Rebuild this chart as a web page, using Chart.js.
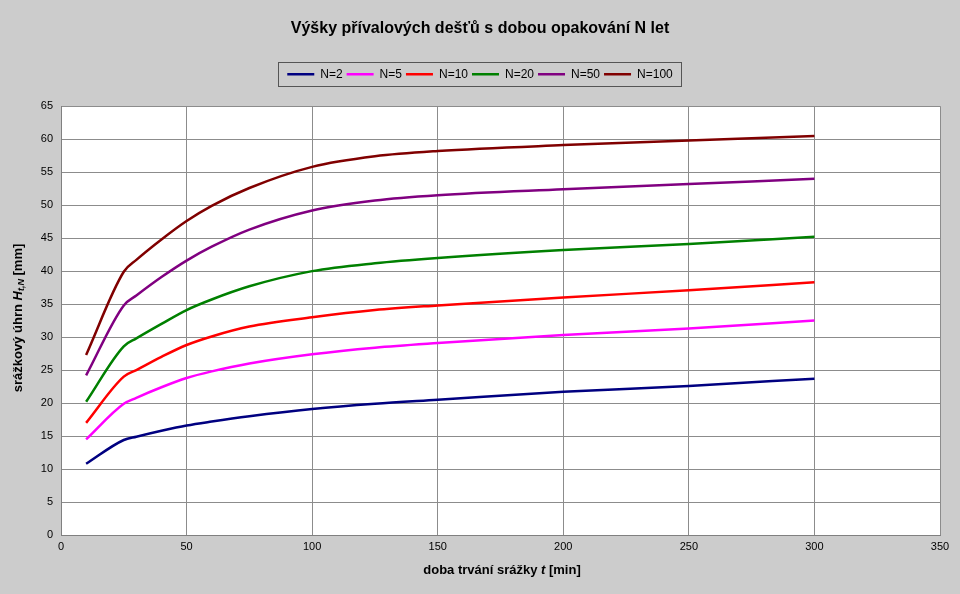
<!DOCTYPE html>
<html>
<head>
<meta charset="utf-8">
<script src="https://cdn.jsdelivr.net/npm/chart.js@4.4.0/dist/chart.umd.min.js"></script>
<style>
  html, body { margin: 0; padding: 0; background: #cccccc; }
  canvas { display: block; }
</style>
</head>
<body>
<canvas id="chart" width="960" height="594"></canvas>
<script>
// doba trvání srážky [min]
const durations = [10, 25, 30, 40, 50, 60, 75, 100, 125, 150, 200, 250, 300];

// výšky srážek [mm] pro jednotlivé doby opakování
const n2   = [10.8, 14.4, 14.9, 15.8, 16.6, 17.2, 18.0, 19.1, 19.9, 20.5, 21.7, 22.6, 23.7];
const n5   = [14.5, 19.9, 20.8, 22.4, 23.8, 24.8, 26.0, 27.4, 28.4, 29.1, 30.3, 31.3, 32.5];
const n10  = [17.0, 24.0, 25.0, 27.0, 28.8, 30.1, 31.6, 33.0, 34.1, 34.8, 36.0, 37.1, 38.3];
const n20  = [20.2, 28.6, 29.8, 32.0, 34.1, 35.7, 37.7, 40.0, 41.2, 42.0, 43.2, 44.1, 45.2];
const n50  = [24.2, 34.8, 36.3, 39.1, 41.6, 43.7, 46.3, 49.2, 50.7, 51.5, 52.4, 53.2, 54.0];
const n100 = [27.3, 39.9, 41.7, 44.8, 47.6, 49.9, 52.6, 55.8, 57.4, 58.2, 59.1, 59.8, 60.5];

const seriesNames = ['N=2', 'N=5', 'N=10', 'N=20', 'N=50', 'N=100'];
const seriesValues = [n2, n5, n10, n20, n50, n100];
const seriesColors = ['#000080', '#ff00ff', '#ff0000', '#008000', '#800080', '#800000'];

const FONT = "'Liberation Sans', Arial, sans-serif";

function points(values) {
    return durations.map((d, i) => ({ x: d, y: values[i] }));
}

// pozadí grafu a bílá plocha
const background = {
    id: 'background',
    beforeDraw(chart) {
        const ctx = chart.ctx;
        const a = chart.chartArea;
        ctx.save();
        ctx.fillStyle = '#cccccc';
        ctx.fillRect(0, 0, chart.width, chart.height);
        ctx.fillStyle = '#ffffff';
        ctx.fillRect(a.left, a.top, a.right - a.left, a.bottom - a.top);
        ctx.restore();
    }
};

// nadpis a legenda vycentrované na celou šířku, rámeček kolem legendy
const legendBox = {
    id: 'legendBox',
    beforeInit(chart) {
        const fit = chart.legend.fit;
        chart.legend.fit = function () {
            fit.bind(chart.legend)();
            this.height += 16;
        };
    },
    afterLayout(chart) {
        [chart.titleBlock, chart.legend].forEach(b => {
            b.left = 0;
            b.right = chart.width;
            b.width = chart.width;
        });
    },
    afterDraw(chart) {
        const legend = chart.legend;
        if (!legend.lineWidths) return;
        const pad = legend.options.labels.padding;
        const lineWidth = legend.lineWidths[0];
        const start = (pad + chart.width - lineWidth) / 2;
        const end = start + lineWidth - pad;
        const left = Math.round(start - 9);
        const right = Math.round(end + 8);
        const top = Math.round(legend.top - 2);
        const ctx = chart.ctx;
        ctx.save();
        ctx.strokeStyle = '#555555';
        ctx.lineWidth = 1;
        ctx.strokeRect(left + 0.5, top + 0.5, right - left, 24);
        ctx.restore();
    }
};

function drawRich(ctx, parts, x, y) {
    let total = 0;
    parts.forEach(p => { ctx.font = p.font; total += ctx.measureText(p.text).width; });
    let cx = x - total / 2;
    parts.forEach(p => {
        ctx.font = p.font;
        ctx.fillText(p.text, cx, y + (p.dy || 0));
        cx += ctx.measureText(p.text).width;
    });
}

// popisky os s kurzívou a dolním indexem
const axisTitles = {
    id: 'axisTitles',
    afterDraw(chart) {
        const ctx = chart.ctx;
        ctx.save();
        ctx.fillStyle = '#000000';
        ctx.textBaseline = 'middle';
        ctx.textAlign = 'left';
        drawRich(ctx, [
            { text: 'doba trvání srážky ', font: 'bold 13px ' + FONT },
            { text: 't', font: 'italic bold 13px ' + FONT },
            { text: ' [min]', font: 'bold 13px ' + FONT }
        ], 502, 570);
        ctx.translate(18, 318);
        ctx.rotate(-Math.PI / 2);
        drawRich(ctx, [
            { text: 'srážkový úhrn ', font: 'bold 13px ' + FONT },
            { text: 'H', font: 'italic bold 13px ' + FONT },
            { text: 't,N', font: 'italic bold 9px ' + FONT, dy: 4 },
            { text: ' [mm]', font: 'bold 13px ' + FONT }
        ], 0, 0);
        ctx.restore();
    }
};

const ctx = document.getElementById('chart').getContext('2d');
const chart = new Chart(ctx, {
    type: 'line',
    data: {
        datasets: seriesNames.map((name, i) => ({
            label: name,
            data: points(seriesValues[i]),
            borderColor: seriesColors[i],
            backgroundColor: seriesColors[i],
            borderWidth: 2.5,
            pointRadius: 0,
            cubicInterpolationMode: 'monotone',
            fill: false
        }))
    },
    options: {
        responsive: false,
        animation: false,
        devicePixelRatio: 1,
        layout: { padding: { left: 0, right: 20, top: 0, bottom: 0 } },
        plugins: {
            title: {
                display: true,
                text: 'Výšky přívalových dešťů s dobou opakování N let',
                color: '#000000',
                font: { family: FONT, size: 16, weight: 'bold' },
                padding: { top: 19, bottom: 26 }
            },
            legend: {
                display: true,
                labels: {
                    color: '#000000',
                    font: { family: FONT, size: 12 },
                    usePointStyle: true,
                    pointStyle: 'line',
                    pointStyleWidth: 27,
                    padding: 4
                }
            },
            tooltip: { enabled: false }
        },
        scales: {
            x: {
                type: 'linear',
                min: 0,
                max: 350,
                ticks: { stepSize: 50, color: '#000000', font: { family: FONT, size: 11 }, padding: 5, maxRotation: 0 },
                grid: { color: '#8c8c8c', drawTicks: false },
                border: { color: '#808080' },
                afterFit(scale) { scale.height = 59; }
            },
            y: {
                min: 0,
                max: 65,
                ticks: { stepSize: 5, color: '#000000', font: { family: FONT, size: 11 }, padding: 8 },
                grid: { color: '#8c8c8c', drawTicks: false },
                border: { color: '#808080' },
                afterFit(scale) { scale.width = 61; }
            }
        }
    },
    plugins: [background, legendBox, axisTitles]
});
</script>
</body>
</html>
